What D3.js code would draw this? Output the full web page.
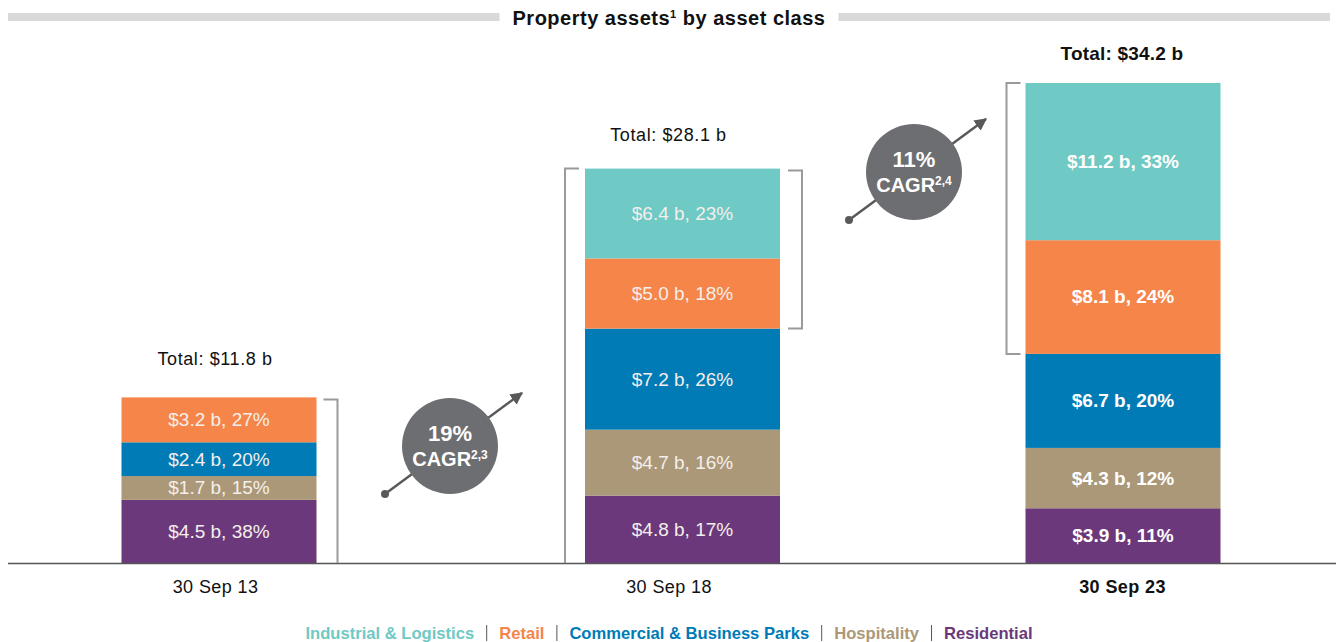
<!DOCTYPE html>
<html>
<head>
<meta charset="utf-8">
<script src="https://cdn.jsdelivr.net/npm/d3@7/dist/d3.min.js"></script>
<style>
  body { margin: 0; background: #fff; }
  svg { display: block; font-family: "Liberation Sans", Arial, sans-serif; }
</style>
</head>
<body>
<svg id="chart" width="1336" height="642"></svg>
<script>
// DATA
var categories = ['30 Sep 13', '30 Sep 18', '30 Sep 23'];
var seriesNames = ['Residential', 'Hospitality', 'Commercial & Business Parks', 'Retail', 'Industrial & Logistics'];
var residential = [4.5, 4.8, 3.9];
var hospitality = [1.7, 4.7, 4.3];
var commercial  = [2.4, 7.2, 6.7];
var retail      = [3.2, 5.0, 8.1];
var industrial  = [0, 6.4, 11.2];
var residentialPct = [38, 17, 11];
var hospitalityPct = [15, 16, 12];
var commercialPct  = [20, 26, 20];
var retailPct      = [27, 18, 24];
var industrialPct  = [0, 23, 33];
var totals = ['$11.8 b', '$28.1 b', '$34.2 b'];
var cagrRates = ['19%', '11%'];
var cagrNotes = ['2,3', '2,4'];
var legendOrder = ['Industrial & Logistics', 'Retail', 'Commercial & Business Parks', 'Hospitality', 'Residential'];

// STYLE
var colors = {
  'Industrial & Logistics': '#6fc9c4',
  'Retail': '#f58549',
  'Commercial & Business Parks': '#007bb6',
  'Hospitality': '#ab9878',
  'Residential': '#6b397b'
};
var barWidth = 195;
var barShift = [4, 14, 1];      // bars sit a little off the label centres
var totalGap = [32, 28, 23];
var baseY = 563;

var svg = d3.select('#chart');

var x = d3.scalePoint().domain(categories).range([215, 1122]);
var y = d3.scaleLinear().domain([0, 34.2]).range([baseY, 83]);

// build table for stack
var values = [residential, hospitality, commercial, retail, industrial];
var pcts = [residentialPct, hospitalityPct, commercialPct, retailPct, industrialPct];
var table = categories.map(function(c, i) {
  var row = { cat: c, idx: i };
  seriesNames.forEach(function(s, k) { row[s] = values[k][i]; });
  return row;
});
var stacked = d3.stack().keys(seriesNames)(table);
var topLayer = stacked[stacked.length - 1];

function barX(i) { return x(categories[i]) + barShift[i] - barWidth / 2; }

// TITLE
var title = svg.append('text')
  .attr('x', 669).attr('y', 25)
  .attr('text-anchor', 'middle')
  .style('font-weight', 'bold').style('font-size', '20px').style('letter-spacing', '0.5px').style('fill', '#111');
title.append('tspan').text('Property assets');
title.append('tspan').attr('dy', -7).style('font-size', '11px').text('1');
title.append('tspan').attr('dy', 7).text(' by asset class');
var tb = title.node().getBBox();
svg.append('rect').attr('x', 8).attr('y', 13).attr('width', tb.x - 13 - 8).attr('height', 8).attr('fill', '#d9d9d9');
svg.append('rect').attr('x', tb.x + tb.width + 13).attr('y', 13).attr('width', 1330 - (tb.x + tb.width + 13)).attr('height', 8).attr('fill', '#d9d9d9');

// BARS
var layers = svg.append('g').selectAll('g')
  .data(stacked).enter().append('g')
  .attr('fill', function(d) { return colors[d.key]; });

layers.selectAll('rect')
  .data(function(d) { return d; })
  .enter().append('rect')
  .attr('x', function(d) { return barX(d.data.idx); })
  .attr('width', barWidth)
  .attr('y', function(d) { return y(d[1]); })
  .attr('height', function(d) { return y(d[0]) - y(d[1]); });

// segment labels
stacked.forEach(function(layer, k) {
  layer.forEach(function(d, i) {
    if (values[k][i] <= 0) return;
    var bold = i === 2;
    svg.append('text')
      .attr('x', barX(i) + barWidth / 2)
      .attr('y', (y(d[0]) + y(d[1])) / 2)
      .attr('dy', '0.34em')
      .attr('text-anchor', 'middle')
      .style('font-size', '19px')
      .style('font-weight', bold ? 'bold' : 'normal')
      .style('fill', bold ? '#ffffff' : '#f4efec')
      .text('$' + values[k][i].toFixed(1) + ' b, ' + pcts[k][i] + '%');
  });
});

// totals
categories.forEach(function(c, i) {
  svg.append('text')
    .attr('x', x(c))
    .attr('y', y(topLayer[i][1]) - totalGap[i])
    .attr('text-anchor', 'middle')
    .style('font-size', i === 2 ? '19px' : '18px')
    .style('letter-spacing', i === 2 ? '0.2px' : '0.6px')
    .style('font-weight', i === 2 ? 'bold' : 'normal')
    .style('fill', '#111')
    .text('Total: ' + totals[i]);
});

// BASELINE + AXIS
svg.append('line').attr('x1', 8).attr('x2', 1336).attr('y1', baseY + 0.5).attr('y2', baseY + 0.5)
  .attr('stroke', '#555').attr('stroke-width', 1.5);

var axis = svg.append('g').attr('transform', 'translate(0,' + baseY + ')')
  .call(d3.axisBottom(x).tickSize(0).tickPadding(17));
axis.select('.domain').remove();
axis.selectAll('text')
  .style('font-family', '"Liberation Sans", Arial, sans-serif')
  .style('font-size', '18px').style('letter-spacing', '0.4px').style('fill', '#111')
  .style('font-weight', function(d, i) { return i === 2 ? 'bold' : 'normal'; });

// BRACKETS
var bracketColor = '#9a9a9a';
function bracket(xv, y0, y1, dir, tickBottom) {
  var p = d3.path();
  p.moveTo(xv + dir * 14, y0);
  p.lineTo(xv, y0);
  p.lineTo(xv, y1);
  if (tickBottom) p.lineTo(xv + dir * 14, y1);
  svg.append('path').attr('d', p.toString()).attr('fill', 'none')
    .attr('stroke', bracketColor).attr('stroke-width', 2);
}
// 2013: right, whole stack
bracket(barX(0) + barWidth + 21, y(topLayer[0][1]) + 2, baseY, -1, false);
// 2018: left whole stack, right over top two segments
bracket(barX(1) - 20, y(topLayer[1][1]), baseY, 1, false);
bracket(barX(1) + barWidth + 22, y(topLayer[1][1]) + 2, y(stacked[2][1][1]), -1, true);
// 2023: left over top two segments
bracket(barX(2) - 19, y(topLayer[2][1]), y(stacked[2][2][1]), 1, true);

// CAGR BADGES
var defs = svg.append('defs');
defs.append('marker').attr('id', 'arrowHead')
  .attr('viewBox', '0 0 10 10').attr('refX', 9).attr('refY', 5)
  .attr('markerWidth', 5).attr('markerHeight', 5).attr('orient', 'auto')
  .attr('markerUnits', 'strokeWidth')
  .append('path').attr('d', 'M0,0 L10,5 L0,10 Z').attr('fill', '#58595b');

var badgeCenters = [[450, 446], [914, 172]];
cagrRates.forEach(function(r, i) {
  var cx = badgeCenters[i][0], cy = badgeCenters[i][1];
  var slope = -101 / 137;
  var x0 = cx - 65, y0 = cy - 65 * slope;
  var x1 = cx + 72, y1 = cy + 72 * slope;
  svg.append('line').attr('x1', x0).attr('y1', y0).attr('x2', x1).attr('y2', y1)
    .attr('stroke', '#58595b').attr('stroke-width', 2.5).attr('marker-end', 'url(#arrowHead)');
  svg.append('circle').attr('cx', x0).attr('cy', y0).attr('r', 4).attr('fill', '#58595b');
  svg.append('circle').attr('cx', cx).attr('cy', cy).attr('r', 48).attr('fill', '#6d6e71');
  svg.append('text').attr('x', cx).attr('y', cy - 5).attr('text-anchor', 'middle')
    .style('font-weight', 'bold').style('font-size', '22px').style('fill', '#fff').text(r);
  var t = svg.append('text').attr('x', cx).attr('y', cy + 20).attr('text-anchor', 'middle')
    .style('font-weight', 'bold').style('font-size', '20px').style('fill', '#fff');
  t.append('tspan').text('CAGR');
  t.append('tspan').attr('dy', -7).style('font-size', '12px').text(cagrNotes[i]);
});

// LEGEND
var legend = svg.append('g').style('font-family', '"Liberation Sans", Arial, sans-serif')
  .style('font-weight', 'bold').style('font-size', '16.6px');
var cursor = 0;
legendOrder.forEach(function(name, i) {
  if (i > 0) {
    legend.append('line').attr('x1', cursor + 12.5).attr('x2', cursor + 12.5)
      .attr('y1', 625).attr('y2', 641).attr('stroke', '#555').attr('stroke-width', 1);
    cursor += 25;
  }
  var t = legend.append('text').attr('x', cursor).attr('y', 639)
    .style('fill', colors[name]).text(name);
  cursor += t.node().getComputedTextLength();
});
legend.attr('transform', 'translate(' + (669 - cursor / 2) + ',0)');
</script>
</body>
</html>
